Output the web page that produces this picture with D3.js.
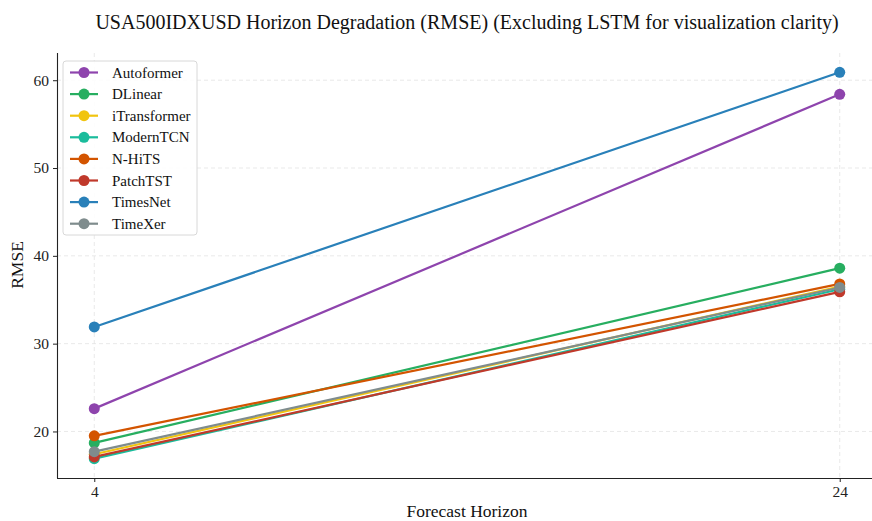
<!DOCTYPE html>
<html>
<head>
<meta charset="utf-8">
<script src="https://cdn.jsdelivr.net/npm/d3@7"></script>
<style>
  body { margin: 0; background: #fff; }
  svg { display: block; font-family: "Liberation Serif", "Times New Roman", serif; }
</style>
</head>
<body>
<svg id="chart" width="872" height="521"></svg>
<script>
// Data
const horizons = [4, 24];
const models = ["Autoformer", "DLinear", "iTransformer", "ModernTCN", "N-HiTS", "PatchTST", "TimesNet", "TimeXer"];
const rmseH4  = [22.6, 18.7, 17.4, 16.9, 19.5, 17.1, 31.9, 17.7];
const rmseH24 = [58.4, 38.6, 36.5, 36.2, 36.8, 35.9, 60.9, 36.4];
const colors = ["#8e44ad", "#27ae60", "#f1c40f", "#1abc9c", "#d35400", "#c0392b", "#2980b9", "#7f8c8d"];
const yTicks = [20, 30, 40, 50, 60];

const series = models.map((name, i) => ({
  name, color: colors[i],
  values: [{ h: horizons[0], v: rmseH4[i] }, { h: horizons[1], v: rmseH24[i] }]
}));

const svg = d3.select("#chart");
const plotL = 57, plotB = 478, plotT = 53, plotR = 877;

// matplotlib-like 5% margins
const allV = rmseH4.concat(rmseH24);
const vMin = d3.min(allV), vMax = d3.max(allV), pad = (vMax - vMin) * 0.05;
const x = d3.scaleLinear().domain([3, 25]).range([plotL, plotR]);
const y = d3.scaleLinear().domain([vMin - pad, vMax + pad]).range([plotB, plotT]);

// grid
const grid = svg.append("g").attr("stroke", "#e3e3e3").attr("stroke-dasharray", "4,3").attr("stroke-width", 0.8);
grid.selectAll("line.gy").data(yTicks).join("line")
  .attr("x1", plotL).attr("x2", plotR).attr("y1", d => y(d)).attr("y2", d => y(d));
grid.selectAll("line.gx").data(horizons).join("line")
  .attr("x1", d => x(d)).attr("x2", d => x(d)).attr("y1", plotT).attr("y2", plotB);

// axes
const xAxis = svg.append("g").attr("transform", `translate(0,${plotB})`)
  .call(d3.axisBottom(x).tickValues(horizons).tickSize(4).tickPadding(4));
const yAxis = svg.append("g").attr("transform", `translate(${plotL},0)`)
  .call(d3.axisLeft(y).tickValues(yTicks).tickSize(4).tickPadding(4));
[xAxis, yAxis].forEach(a => {
  a.select(".domain").attr("stroke", "#222").attr("stroke-width", 1.1);
  a.selectAll(".tick line").attr("stroke", "#222");
  a.selectAll(".tick text").attr("font-family", "Liberation Serif, serif").attr("font-size", 15.5).attr("fill", "#222");
});
xAxis.select(".domain").attr("d", `M${plotL},0.5H${plotR}`);
yAxis.select(".domain").attr("d", `M0.5,${plotT}V${plotB}`);

// lines and markers
const line = d3.line().x(d => x(d.h)).y(d => y(d.v));
const g = svg.append("g");
series.forEach(s => {
  g.append("path").datum(s.values).attr("d", line)
    .attr("fill", "none").attr("stroke", s.color).attr("stroke-width", 2.2);
  g.selectAll(null).data(s.values).join("circle")
    .attr("cx", d => x(d.h)).attr("cy", d => y(d.v)).attr("r", 5.5).attr("fill", s.color);
});

// title and labels
svg.append("text").attr("x", 467).attr("y", 29).attr("text-anchor", "middle")
  .attr("font-size", 20).attr("fill", "#111")
  .text("USA500IDXUSD Horizon Degradation (RMSE) (Excluding LSTM for visualization clarity)");
svg.append("text").attr("x", 467).attr("y", 517).attr("text-anchor", "middle")
  .attr("font-size", 17.5).attr("fill", "#111").text("Forecast Horizon");
svg.append("text").attr("transform", "translate(23,265) rotate(-90)").attr("text-anchor", "middle")
  .attr("font-size", 17.5).attr("fill", "#111").text("RMSE");

// legend
const lg = svg.append("g").attr("transform", "translate(63,61)");
lg.append("rect").attr("width", 134).attr("height", 174).attr("rx", 3)
  .attr("fill", "#fff").attr("fill-opacity", 0.85).attr("stroke", "#d8d8d8");
const items = lg.selectAll("g.item").data(series).join("g")
  .attr("transform", (d, i) => `translate(0,${11.5 + i * 21.6})`);
items.append("line").attr("x1", 7).attr("x2", 35).attr("stroke", d => d.color).attr("stroke-width", 2.2);
items.append("circle").attr("cx", 21).attr("r", 5.5).attr("fill", d => d.color);
items.append("text").attr("x", 49).attr("y", 5).attr("font-size", 15).attr("fill", "#111").text(d => d.name);
</script>
</body>
</html>
